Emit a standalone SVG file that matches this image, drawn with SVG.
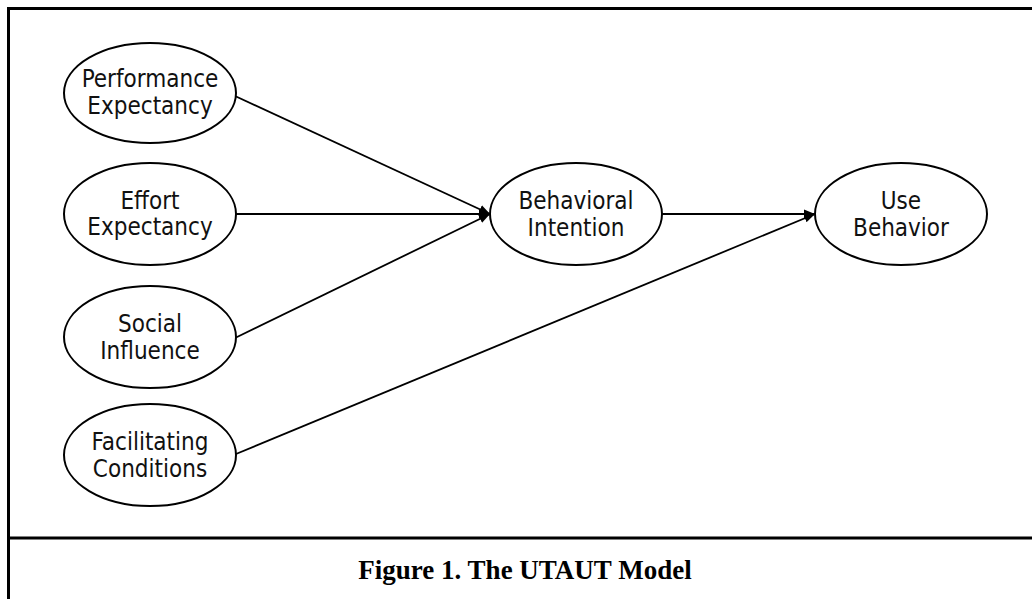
<svg xmlns="http://www.w3.org/2000/svg" width="1032" height="599" viewBox="0 0 1032 599">
<style>
.frame{stroke:#000;stroke-width:3;fill:none}
.node ellipse{fill:#fff;stroke:#000;stroke-width:2}
.node text{font-family:"DejaVu Sans Condensed","DejaVu Sans",sans-serif;font-stretch:condensed;font-size:24px;fill:#111;text-anchor:middle}
.edge{stroke:#000;stroke-width:1.8;fill:none;marker-end:url(#arr)}
.caption{font-family:"Liberation Serif","Times New Roman",serif;font-weight:bold;font-size:27px;text-anchor:middle;fill:#000}
</style>
<defs>
<marker id="arr" markerWidth="12" markerHeight="10" refX="11" refY="5" orient="auto" markerUnits="userSpaceOnUse">
<path d="M0,0.5 L11,5 L0,9.5 Z" fill="#000"/>
</marker>
</defs>
<rect width="1032" height="599" fill="#fff"/>
<g id="frame">
<line class="frame" x1="8.5" y1="8.5" x2="1032" y2="8.5"/>
<line class="frame" x1="8.5" y1="7" x2="8.5" y2="599"/>
<line class="frame" x1="8.5" y1="538" x2="1032" y2="538"/>
</g>
<g id="connectors">
<line class="edge" x1="235" y1="96" x2="490" y2="214"/>
<line class="edge" x1="236" y1="214" x2="490" y2="214"/>
<line class="edge" x1="235" y1="338" x2="490" y2="214"/>
<line class="edge" x1="236" y1="454" x2="815" y2="214"/>
<line class="edge" x1="662" y1="214" x2="815" y2="214"/>
</g>
<g id="performance" class="node">
<ellipse cx="150" cy="93" rx="86" ry="50"/>
<text x="150" y="87">Performance</text>
<text x="150" y="114">Expectancy</text>
</g>
<g id="effort" class="node">
<ellipse cx="150" cy="214" rx="86" ry="51"/>
<text x="150" y="209">Effort</text>
<text x="150" y="235">Expectancy</text>
</g>
<g id="social" class="node">
<ellipse cx="150" cy="337" rx="86" ry="51"/>
<text x="150" y="332">Social</text>
<text x="150" y="359">Influence</text>
</g>
<g id="facilitating" class="node">
<ellipse cx="150" cy="455" rx="86" ry="51"/>
<text x="150" y="450">Facilitating</text>
<text x="150" y="477">Conditions</text>
</g>
<g id="intention" class="node">
<ellipse cx="576" cy="214" rx="86" ry="51"/>
<text x="576" y="209">Behavioral</text>
<text x="576" y="236">Intention</text>
</g>
<g id="use" class="node">
<ellipse cx="901" cy="214" rx="86" ry="51"/>
<text x="901" y="209">Use</text>
<text x="901" y="236">Behavior</text>
</g>
<text class="caption" x="525" y="579">Figure 1. The UTAUT Model</text>
</svg>
